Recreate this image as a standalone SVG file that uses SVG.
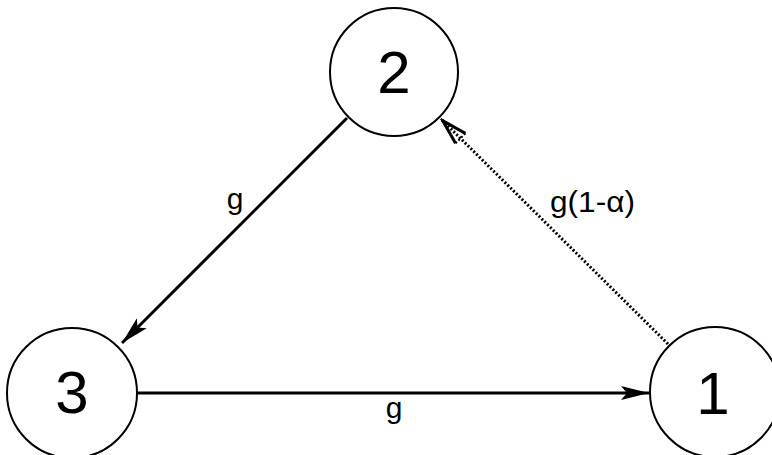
<svg xmlns="http://www.w3.org/2000/svg" width="772" height="455" viewBox="0 0 772 455">
<style>
.node{fill:#fff;stroke:#000;stroke-width:2}
.num{font-family:"Liberation Sans",Arial,sans-serif;font-size:60px;text-anchor:middle;fill:#000}
.lbl{font-family:"Liberation Sans",Arial,sans-serif;font-size:30px;fill:#000}
.e{fill:none;stroke:#000;stroke-width:3}
.d{fill:none;stroke:#000;stroke-width:3;stroke-dasharray:2 2}
</style>
<defs>
<marker id="ah" markerUnits="userSpaceOnUse" markerWidth="30" markerHeight="20" viewBox="0 0 30 20" refX="28" refY="10" orient="auto">
<path d="M0,3 L28,10 L0,17 L6,10 Z" fill="#000"/>
</marker>
<marker id="ahd" markerUnits="userSpaceOnUse" markerWidth="30" markerHeight="20" viewBox="0 0 30 20" refX="28" refY="10" orient="auto">
<path d="M2,3 L27,10 L2,17" fill="none" stroke="#000" stroke-width="3"/>
<path d="M2,3 L2,17" fill="none" stroke="#000" stroke-width="2" stroke-dasharray="2 2"/>
</marker>
</defs>
<g id="connectors">
<line class="e" x1="347" y1="118" x2="122" y2="343" marker-end="url(#ah)"/>
<line class="e" x1="138" y1="393" x2="649" y2="393" marker-end="url(#ah)"/>
<line class="d" x1="668" y1="344" x2="442" y2="120" marker-end="url(#ahd)"/>
<text class="lbl" x="235" y="209" text-anchor="middle">g</text>
<text class="lbl" x="394" y="418" text-anchor="middle">g</text>
<text class="lbl" x="550" y="212" textLength="85" lengthAdjust="spacingAndGlyphs">g(1-α)</text>
</g>
<g id="node2">
<circle class="node" cx="394" cy="72" r="64"/>
<text class="num" x="394" y="93">2</text>
</g>
<g id="node3">
<circle class="node" cx="72" cy="393" r="65"/>
<text class="num" x="72" y="413">3</text>
</g>
<g id="node1">
<circle class="node" cx="715" cy="392" r="65"/>
<text class="num" x="713" y="414">1</text>
</g>
</svg>
